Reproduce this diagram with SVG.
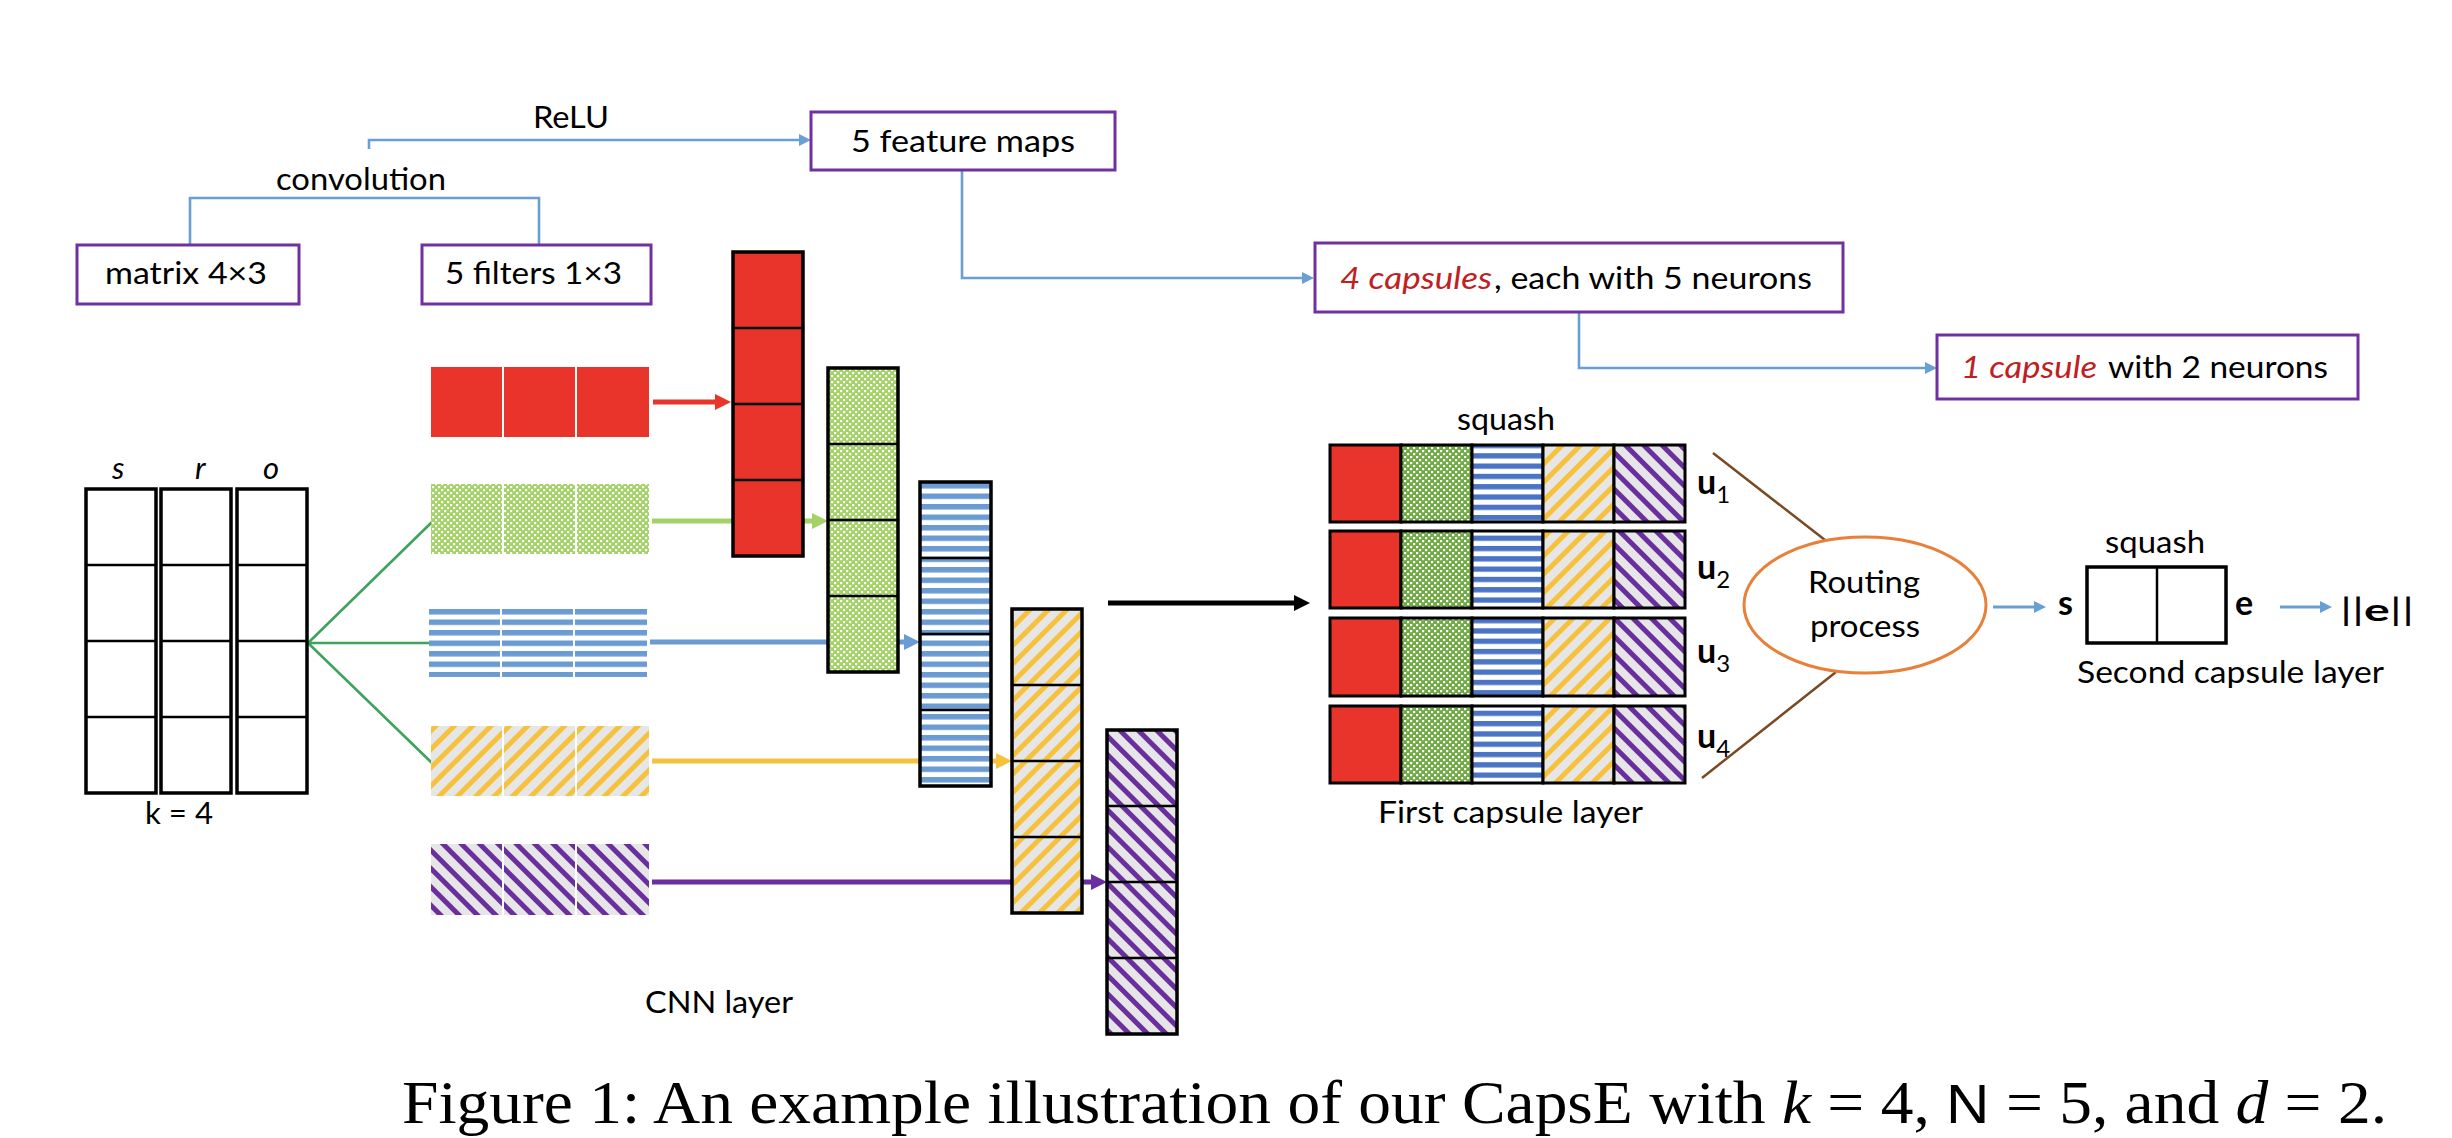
<svg xmlns="http://www.w3.org/2000/svg" width="2452" height="1138" viewBox="0 0 2452 1138">
<style>
.lbl{font-family:Lato,"Open Sans",sans-serif;font-size:31px;fill:#000}
.red{fill:#C0201F;font-style:italic}
.box{fill:#fff;stroke:#7030A0;stroke-width:3}
.conn{fill:none;stroke:#6A9FD4;stroke-width:2.6}
.col{stroke:#000;stroke-width:3.5}
.div{stroke:#000;stroke-width:2.5}
.cell{stroke:#000;stroke-width:3}
.mat{fill:#fff;stroke:#000;stroke-width:3.5}
.vec{font-family:Lato,"Open Sans",sans-serif;font-size:34px;font-weight:bold;fill:#000}
.cap{font-family:"Liberation Serif",serif;font-size:61px;fill:#000}
</style>
<defs>
<pattern id="pG" width="6" height="6" patternUnits="userSpaceOnUse">
<rect width="6" height="6" fill="#A3D266"/><rect width="2.2" height="2.2" fill="#fff"/><rect x="3" y="3" width="2.2" height="2.2" fill="#fff"/>
</pattern>
<pattern id="pG2" width="6" height="6" patternUnits="userSpaceOnUse">
<rect width="6" height="6" fill="#6FAA45"/><rect width="2.2" height="2.2" fill="#fff"/><rect x="3" y="3" width="2.2" height="2.2" fill="#fff"/>
</pattern>
<pattern id="pB" width="10" height="10.5" patternUnits="userSpaceOnUse">
<rect width="10" height="10.5" fill="#fff"/><rect width="10" height="5.5" fill="#6A9BD3"/>
</pattern>
<pattern id="pB2" width="10" height="10.3" patternUnits="userSpaceOnUse">
<rect width="10" height="10.3" fill="#fff"/><rect width="10" height="5.3" fill="#4A75C4"/>
</pattern>
<pattern id="pY" width="13" height="13" patternUnits="userSpaceOnUse" patternTransform="rotate(45)">
<rect width="13" height="13" fill="#E7E6E6"/><rect width="5" height="13" fill="#F6C13D"/>
</pattern>
<pattern id="pP" width="13" height="13" patternUnits="userSpaceOnUse" patternTransform="rotate(-45)">
<rect width="13" height="13" fill="#E7E6E6"/><rect width="5" height="13" fill="#6A2E9E"/>
</pattern>
<marker id="mBlue" markerUnits="userSpaceOnUse" markerWidth="12" markerHeight="12" refX="0" refY="6" orient="auto"><path d="M0,0 L12,6 L0,12 z" fill="#6A9FD4"/></marker>
<marker id="mRed" markerUnits="userSpaceOnUse" markerWidth="16" markerHeight="16" refX="0" refY="8" orient="auto"><path d="M0,0 L16,8 L0,16 z" fill="#E8342A"/></marker>
<marker id="mGreen" markerUnits="userSpaceOnUse" markerWidth="16" markerHeight="16" refX="0" refY="8" orient="auto"><path d="M0,0 L16,8 L0,16 z" fill="#A3D266"/></marker>
<marker id="mBl" markerUnits="userSpaceOnUse" markerWidth="16" markerHeight="16" refX="0" refY="8" orient="auto"><path d="M0,0 L16,8 L0,16 z" fill="#6A9BD3"/></marker>
<marker id="mYel" markerUnits="userSpaceOnUse" markerWidth="16" markerHeight="16" refX="0" refY="8" orient="auto"><path d="M0,0 L16,8 L0,16 z" fill="#F6C13D"/></marker>
<marker id="mPur" markerUnits="userSpaceOnUse" markerWidth="16" markerHeight="16" refX="0" refY="8" orient="auto"><path d="M0,0 L16,8 L0,16 z" fill="#6A2E9E"/></marker>
<marker id="mBlk" markerUnits="userSpaceOnUse" markerWidth="16" markerHeight="16" refX="0" refY="8" orient="auto"><path d="M0,0 L16,8 L0,16 z" fill="#000"/></marker>
</defs>
<rect width="2452" height="1138" fill="#fff"/>

<!-- connectors (drawn below nodes) -->
<g id="connectors">
<path class="conn" d="M369,149 V140 H799" marker-end="url(#mBlue)"/>
<path class="conn" d="M190,245 V198 H539 V245"/>
<path class="conn" d="M962,170 V278 H1302" marker-end="url(#mBlue)"/>
<path class="conn" d="M1579,312 V368 H1925" marker-end="url(#mBlue)"/>
<path fill="none" stroke="#3DA35D" stroke-width="2.6" d="M432,522 L308,643 L432,763 M308,643 H432"/>
<path fill="none" stroke="#E8342A" stroke-width="5" d="M653,402 H715" marker-end="url(#mRed)"/>
<path fill="none" stroke="#A3D266" stroke-width="5" d="M652,521 H812" marker-end="url(#mGreen)"/>
<path fill="none" stroke="#6A9BD3" stroke-width="5" d="M650,642 H904" marker-end="url(#mBl)"/>
<path fill="none" stroke="#F6C13D" stroke-width="5" d="M652,761 H996" marker-end="url(#mYel)"/>
<path fill="none" stroke="#6A2E9E" stroke-width="5" d="M652,882 H1091" marker-end="url(#mPur)"/>
<path fill="none" stroke="#000" stroke-width="5" d="M1108,603 H1294" marker-end="url(#mBlk)"/>
<path fill="none" stroke="#7B4A22" stroke-width="2.5" d="M1713,453 L1825,540 M1702,778 L1836,672"/>
<path fill="none" stroke="#6A9FD4" stroke-width="3" d="M1993,607 H2034" marker-end="url(#mBlue)"/>
<path fill="none" stroke="#6A9FD4" stroke-width="3" d="M2280,607 H2320" marker-end="url(#mBlue)"/>
</g>

<g id="label-relu"><text class="lbl" x="533" y="128" textLength="76" lengthAdjust="spacingAndGlyphs">ReLU</text></g>
<g id="label-convolution"><text class="lbl" x="276" y="190" textLength="170" lengthAdjust="spacingAndGlyphs">convolution</text></g>

<g id="node-matrix-box"><rect class="box" x="77" y="245" width="222" height="59"/><text class="lbl" x="105" y="284" textLength="162" lengthAdjust="spacingAndGlyphs">matrix 4×3</text></g>
<g id="node-filters-box"><rect class="box" x="422" y="245" width="229" height="59"/><text class="lbl" x="445" y="284" textLength="177" lengthAdjust="spacingAndGlyphs">5 filters 1×3</text></g>
<g id="node-feature-maps"><rect class="box" x="811" y="112" width="304" height="58"/><text class="lbl" x="851" y="152" font-size="33" textLength="224" lengthAdjust="spacingAndGlyphs">5 feature maps</text></g>
<g id="node-4-capsules"><rect class="box" x="1315" y="243" width="528" height="69"/><text class="lbl red" x="1340" y="289" font-size="32" textLength="152" lengthAdjust="spacingAndGlyphs">4 capsules</text><text class="lbl" x="1494" y="289" font-size="32" textLength="318" lengthAdjust="spacingAndGlyphs">, each with 5 neurons</text></g>
<g id="node-1-capsule"><rect class="box" x="1937" y="335" width="421" height="64"/><text class="lbl red" x="1961" y="378" font-size="32" textLength="136" lengthAdjust="spacingAndGlyphs">1 capsule</text><text class="lbl" x="2108" y="378" font-size="32" textLength="220" lengthAdjust="spacingAndGlyphs">with 2 neurons</text></g>

<g id="node-matrix">
<text class="lbl" x="112" y="479" font-size="35" font-style="italic">s</text>
<text class="lbl" x="195" y="479" font-size="35" font-style="italic">r</text>
<text class="lbl" x="263" y="479" font-size="35" font-style="italic">o</text>
<rect class="mat" x="86" y="489" width="70" height="304"/>
<rect class="mat" x="161" y="489" width="70" height="304"/>
<rect class="mat" x="237" y="489" width="70" height="304"/>
<path class="div" d="M86,565 H156 M86,641 H156 M86,717 H156 M161,565 H231 M161,641 H231 M161,717 H231 M237,565 H307 M237,641 H307 M237,717 H307"/>
<text class="lbl" x="145" y="824" font-size="30" textLength="68" lengthAdjust="spacingAndGlyphs">k = 4</text>
</g>

<g id="node-filter-red"><rect x="431" y="367" width="71" height="70" fill="#E8342A"/><rect x="504" y="367" width="71" height="70" fill="#E8342A"/><rect x="577" y="367" width="72" height="70" fill="#E8342A"/></g>
<g id="node-filter-green"><rect x="431" y="484" width="71" height="70" fill="url(#pG)"/><rect x="504" y="484" width="71" height="70" fill="url(#pG)"/><rect x="577" y="484" width="72" height="70" fill="url(#pG)"/></g>
<g id="node-filter-blue"><rect x="429" y="607" width="71" height="70" fill="url(#pB)"/><rect x="502" y="607" width="71" height="70" fill="url(#pB)"/><rect x="575" y="607" width="72" height="70" fill="url(#pB)"/></g>
<g id="node-filter-yellow"><rect x="431" y="726" width="71" height="70" fill="url(#pY)"/><rect x="504" y="726" width="71" height="70" fill="url(#pY)"/><rect x="577" y="726" width="72" height="70" fill="url(#pY)"/></g>
<g id="node-filter-purple"><rect x="431" y="844" width="71" height="71" fill="url(#pP)"/><rect x="504" y="844" width="71" height="71" fill="url(#pP)"/><rect x="577" y="844" width="72" height="71" fill="url(#pP)"/></g>

<g id="node-map-red"><rect class="col" x="733" y="252" width="70" height="304" fill="#E8342A"/><path class="div" d="M733,328 H803 M733,404 H803 M733,480 H803"/></g>
<g id="node-map-green"><rect class="col" x="828" y="368" width="70" height="304" fill="url(#pG)"/><path class="div" d="M828,444 H898 M828,520 H898 M828,596 H898"/></g>
<g id="node-map-blue"><rect class="col" x="920" y="482" width="71" height="304" fill="url(#pB)"/><path class="div" d="M920,558 H991 M920,634 H991 M920,710 H991"/></g>
<g id="node-map-yellow"><rect class="col" x="1012" y="609" width="70" height="304" fill="url(#pY)"/><path class="div" d="M1012,685 H1082 M1012,761 H1082 M1012,837 H1082"/></g>
<g id="node-map-purple"><rect class="col" x="1107" y="730" width="70" height="304" fill="url(#pP)"/><path class="div" d="M1107,806 H1177 M1107,882 H1177 M1107,958 H1177"/></g>
<g id="label-cnn"><text class="lbl" x="645" y="1013" font-size="32" textLength="148" lengthAdjust="spacingAndGlyphs">CNN layer</text></g>

<g id="node-first-capsule-layer">
<text class="lbl" x="1457" y="430" font-size="30" textLength="98" lengthAdjust="spacingAndGlyphs">squash</text>
<g id="capsule-u1">
<rect class="cell" x="1330" y="445" width="71" height="77" fill="#E8342A"/><rect class="cell" x="1401" y="445" width="71" height="77" fill="url(#pG2)"/><rect class="cell" x="1472" y="445" width="71" height="77" fill="url(#pB2)"/><rect class="cell" x="1543" y="445" width="71" height="77" fill="url(#pY)"/><rect class="cell" x="1614" y="445" width="71" height="77" fill="url(#pP)"/>
<text class="vec" x="1697" y="494">u<tspan font-size="24" font-weight="normal" dy="9">1</tspan></text>
</g>
<g id="capsule-u2">
<rect class="cell" x="1330" y="531" width="71" height="77" fill="#E8342A"/><rect class="cell" x="1401" y="531" width="71" height="77" fill="url(#pG2)"/><rect class="cell" x="1472" y="531" width="71" height="77" fill="url(#pB2)"/><rect class="cell" x="1543" y="531" width="71" height="77" fill="url(#pY)"/><rect class="cell" x="1614" y="531" width="71" height="77" fill="url(#pP)"/>
<text class="vec" x="1697" y="579">u<tspan font-size="24" font-weight="normal" dy="9">2</tspan></text>
</g>
<g id="capsule-u3">
<rect class="cell" x="1330" y="618" width="71" height="78" fill="#E8342A"/><rect class="cell" x="1401" y="618" width="71" height="78" fill="url(#pG2)"/><rect class="cell" x="1472" y="618" width="71" height="78" fill="url(#pB2)"/><rect class="cell" x="1543" y="618" width="71" height="78" fill="url(#pY)"/><rect class="cell" x="1614" y="618" width="71" height="78" fill="url(#pP)"/>
<text class="vec" x="1697" y="663">u<tspan font-size="24" font-weight="normal" dy="9">3</tspan></text>
</g>
<g id="capsule-u4">
<rect class="cell" x="1330" y="706" width="71" height="77" fill="#E8342A"/><rect class="cell" x="1401" y="706" width="71" height="77" fill="url(#pG2)"/><rect class="cell" x="1472" y="706" width="71" height="77" fill="url(#pB2)"/><rect class="cell" x="1543" y="706" width="71" height="77" fill="url(#pY)"/><rect class="cell" x="1614" y="706" width="71" height="77" fill="url(#pP)"/>
<text class="vec" x="1697" y="748">u<tspan font-size="24" font-weight="normal" dy="9">4</tspan></text>
</g>
<text class="lbl" x="1378" y="823" font-size="30" textLength="265" lengthAdjust="spacingAndGlyphs">First capsule layer</text>
</g>

<g id="node-routing">
<ellipse cx="1865" cy="605" rx="121" ry="68" fill="#fff" stroke="#E8803A" stroke-width="3"/>
<text class="lbl" x="1808" y="593" font-size="32" textLength="112" lengthAdjust="spacingAndGlyphs">Routing</text>
<text class="lbl" x="1810" y="637" font-size="32" textLength="110" lengthAdjust="spacingAndGlyphs">process</text>
</g>

<g id="node-second-capsule-layer">
<text class="lbl" x="2105" y="553" font-size="30" textLength="100" lengthAdjust="spacingAndGlyphs">squash</text>
<text class="vec" x="2058" y="615">s</text>
<rect x="2087" y="567" width="139" height="76" fill="#fff" stroke="#000" stroke-width="3.5"/>
<path class="div" d="M2157,567 V643" stroke-width="3"/>
<text class="vec" x="2235" y="615">e</text>
<text class="lbl" x="2077" y="683" font-size="30" textLength="307" lengthAdjust="spacingAndGlyphs">Second capsule layer</text>
</g>
<g id="node-norm"><text class="lbl" x="2340" y="621" font-size="33" textLength="74" lengthAdjust="spacingAndGlyphs">||<tspan font-weight="bold">e</tspan>||</text></g>

<g id="caption"><text class="cap" x="402" y="1123" textLength="1985" lengthAdjust="spacingAndGlyphs">Figure 1: An example illustration of our CapsE with <tspan font-style="italic">k</tspan> = 4, <tspan font-family="Liberation Sans, sans-serif" font-size="56">N</tspan> = 5, and <tspan font-style="italic">d</tspan> = 2.</text></g>
</svg>
